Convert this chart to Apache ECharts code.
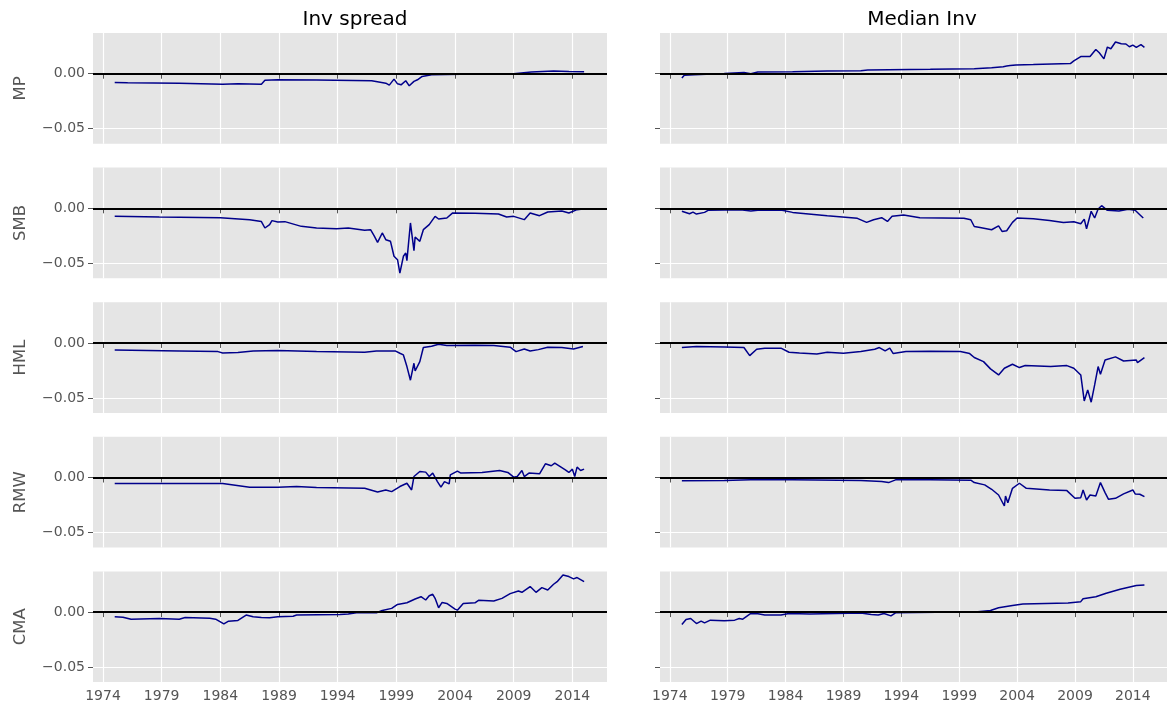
<!DOCTYPE html>
<html>
<head>
<meta charset="utf-8">
<script src="https://cdn.jsdelivr.net/npm/echarts@6/dist/echarts.min.js"></script>
<style>
html,body{margin:0;padding:0;background:#fff;}
#c{width:1167px;height:711px;}
</style>
</head>
<body>
<div id="c"></div>
<script>
// ---- data (decimal year, value) ----
const columnTitles = ['Inv spread', 'Median Inv'];
const rowNames = ['MP', 'SMB', 'HML', 'RMW', 'CMA'];
const xTickYears = [1974, 1979, 1984, 1989, 1994, 1999, 2004, 2009, 2014];
const yTickValues = [-0.05, 0];

const spreadMP = [[1975.0,-0.008],[1976.1,-0.0083],[1980.5,-0.0086],[1984.2,-0.0095],[1985.5,-0.0092],[1987.5,-0.0095],[1987.8,-0.006],[1988.9,-0.0055],[1992.2,-0.0058],[1996.9,-0.0064],[1998.1,-0.0086],[1998.4,-0.0104],[1998.8,-0.0049],[1999.1,-0.0092],[1999.4,-0.0101],[1999.8,-0.0064],[2000.1,-0.011],[2000.5,-0.007],[2000.8,-0.0055],[2001.2,-0.0025],[2002.0,-0.001],[2005.7,-0.0003],[2009.0,0.0],[2010.5,0.0015],[2012.4,0.0025],[2013.7,0.002],[2015.0,0.0018]];
const medianMP = [[1975.04,-0.004],[1975.25,-0.0015],[1976.1,-0.001],[1978.7,0.0003],[1980.4,0.0012],[1981.0,0.0],[1981.6,0.0015],[1984.6,0.0018],[1987.6,0.0025],[1990.5,0.0028],[1991.1,0.0034],[1996.5,0.004],[2000.3,0.0046],[2001.8,0.0055],[2002.8,0.0064],[2003.1,0.007],[2003.4,0.0074],[2003.9,0.008],[2005.4,0.0083],[2008.6,0.0092],[2008.9,0.0117],[2009.5,0.0156],[2010.3,0.0156],[2010.4,0.0144],[2010.8,0.022],[2011.1,0.019],[2011.5,0.0135],[2011.8,0.0242],[2012.1,0.0227],[2012.5,0.0288],[2013.0,0.0273],[2013.4,0.027],[2013.7,0.0245],[2014.0,0.026],[2014.3,0.024],[2014.7,0.0264],[2015.0,0.024]];
const spreadSMB = [[1975.0,-0.0073],[1978.8,-0.0079],[1984.0,-0.0085],[1986.5,-0.0103],[1987.5,-0.012],[1987.8,-0.0179],[1988.2,-0.0148],[1988.4,-0.0112],[1988.9,-0.0124],[1989.5,-0.0121],[1990.9,-0.0164],[1992.2,-0.0179],[1993.9,-0.0185],[1994.9,-0.0179],[1996.3,-0.02],[1996.8,-0.0194],[1997.1,-0.0248],[1997.4,-0.0309],[1997.8,-0.0224],[1998.1,-0.0285],[1998.5,-0.03],[1998.8,-0.0436],[1999.1,-0.0467],[1999.3,-0.0588],[1999.6,-0.0436],[1999.8,-0.0406],[1999.9,-0.0476],[2000.2,-0.0133],[2000.5,-0.0385],[2000.6,-0.0261],[2001.0,-0.03],[2001.3,-0.0194],[2001.8,-0.0148],[2002.3,-0.0073],[2002.6,-0.0097],[2003.3,-0.0088],[2003.8,-0.0042],[2005.7,-0.0045],[2007.7,-0.0052],[2008.4,-0.0079],[2009.0,-0.0073],[2009.9,-0.0103],[2010.4,-0.0042],[2011.2,-0.0067],[2011.9,-0.0033],[2013.1,-0.0024],[2013.7,-0.0042],[2014.4,-0.0012],[2014.9,-0.0006]];
const medianSMB = [[1975.04,-0.0027],[1975.7,-0.0049],[1976.0,-0.0034],[1976.3,-0.0052],[1977.0,-0.0037],[1977.3,-0.0018],[1978.7,-0.0015],[1980.1,-0.0012],[1981.0,-0.0024],[1981.6,-0.0018],[1983.7,-0.0018],[1984.6,-0.0037],[1987.6,-0.0067],[1990.2,-0.0091],[1991.0,-0.0128],[1991.6,-0.0104],[1992.3,-0.0085],[1992.8,-0.0119],[1993.2,-0.0073],[1994.2,-0.0061],[1995.6,-0.0085],[1999.4,-0.0091],[2000.0,-0.0104],[2000.3,-0.0165],[2000.8,-0.0174],[2001.8,-0.0195],[2002.4,-0.0159],[2002.7,-0.021],[2003.1,-0.0204],[2003.6,-0.0128],[2004.0,-0.0088],[2005.4,-0.0095],[2006.8,-0.011],[2008.0,-0.0128],[2008.9,-0.0122],[2009.5,-0.014],[2009.8,-0.0098],[2010.0,-0.0186],[2010.4,-0.0027],[2010.7,-0.0088],[2011.0,-0.0006],[2011.3,0.0024],[2011.8,-0.0018],[2012.8,-0.0024],[2013.6,-0.0009],[2014.2,-0.0018],[2014.6,-0.0058],[2014.9,-0.0088]];
const spreadHML = [[1975.0,-0.0064],[1980.5,-0.0073],[1983.8,-0.0079],[1984.2,-0.0091],[1985.5,-0.0088],[1986.8,-0.0073],[1988.9,-0.007],[1992.2,-0.0079],[1996.3,-0.0085],[1997.3,-0.0073],[1998.9,-0.0073],[1999.3,-0.0094],[1999.6,-0.0109],[1999.9,-0.0215],[2000.2,-0.0339],[2000.5,-0.0185],[2000.6,-0.0255],[2001.0,-0.017],[2001.3,-0.0042],[2002.0,-0.003],[2002.6,-0.0012],[2003.3,-0.0024],[2005.7,-0.0021],[2007.3,-0.0024],[2008.7,-0.0039],[2009.2,-0.0079],[2009.9,-0.0055],[2010.4,-0.0073],[2011.1,-0.0061],[2011.9,-0.0039],[2013.1,-0.0042],[2014.1,-0.0055],[2014.9,-0.0033]];
const medianHML = [[1975.04,-0.0042],[1976.3,-0.0033],[1978.7,-0.0036],[1980.4,-0.0042],[1980.9,-0.0115],[1981.5,-0.0058],[1982.2,-0.0048],[1983.6,-0.0048],[1984.3,-0.0085],[1985.2,-0.0091],[1986.7,-0.01],[1987.6,-0.0085],[1989.0,-0.0094],[1990.5,-0.0079],[1991.7,-0.0058],[1992.1,-0.0042],[1992.6,-0.0073],[1993.0,-0.0048],[1993.3,-0.0097],[1994.4,-0.0079],[1996.5,-0.0076],[1999.1,-0.0079],[1999.9,-0.0097],[2000.3,-0.0133],[2001.1,-0.017],[2001.7,-0.0236],[2002.4,-0.0291],[2002.9,-0.023],[2003.6,-0.0194],[2004.2,-0.0224],[2004.7,-0.0206],[2006.9,-0.0215],[2008.3,-0.0206],[2008.9,-0.023],[2009.5,-0.0291],[2009.8,-0.0527],[2010.1,-0.0427],[2010.4,-0.0539],[2010.7,-0.0382],[2011.0,-0.0215],[2011.2,-0.0285],[2011.6,-0.0155],[2012.5,-0.0127],[2013.2,-0.0164],[2014.3,-0.0155],[2014.4,-0.0179],[2015.0,-0.0133]];
const spreadRMW = [[1975.0,-0.0055],[1984.2,-0.0055],[1986.5,-0.0088],[1988.9,-0.0088],[1990.5,-0.0082],[1992.2,-0.0091],[1996.3,-0.0098],[1997.4,-0.0131],[1998.1,-0.0113],[1998.6,-0.0128],[1999.3,-0.0082],[1999.9,-0.0052],[2000.3,-0.0113],[2000.5,0.0009],[2001.0,0.0055],[2001.5,0.0049],[2001.8,0.0009],[2002.1,0.004],[2002.5,-0.0037],[2002.8,-0.0088],[2003.1,-0.0037],[2003.5,-0.0058],[2003.6,0.0024],[2004.2,0.0058],[2004.5,0.004],[2006.3,0.0046],[2007.8,0.0064],[2008.5,0.0046],[2009.0,0.0003],[2009.3,0.0009],[2009.7,0.0064],[2009.9,0.0009],[2010.3,0.004],[2011.2,0.0034],[2011.7,0.0125],[2012.2,0.0107],[2012.5,0.0131],[2013.4,0.007],[2013.7,0.0046],[2014.0,0.0076],[2014.2,0.0009],[2014.4,0.0095],[2014.7,0.0064],[2015.0,0.0076]];
const medianRMW = [[1975.04,-0.003],[1978.7,-0.0027],[1981.0,-0.0021],[1984.6,-0.0021],[1990.5,-0.0027],[1992.3,-0.0037],[1992.9,-0.0046],[1993.5,-0.0021],[1996.5,-0.0021],[2000.0,-0.0024],[2000.3,-0.0046],[2001.2,-0.0067],[2001.8,-0.0107],[2002.4,-0.0159],[2002.9,-0.0259],[2003.0,-0.0168],[2003.2,-0.0229],[2003.6,-0.0098],[2004.2,-0.0052],[2004.8,-0.0098],[2006.8,-0.0113],[2008.3,-0.0119],[2009.0,-0.0189],[2009.5,-0.0183],[2009.7,-0.0113],[2010.0,-0.0204],[2010.3,-0.0159],[2010.8,-0.0168],[2011.2,-0.0046],[2011.6,-0.0137],[2011.9,-0.0198],[2012.5,-0.0189],[2013.2,-0.0149],[2014.0,-0.0113],[2014.2,-0.0149],[2014.6,-0.0152],[2015.0,-0.0174]];
const spreadCMA = [[1975.0,-0.0043],[1975.7,-0.0046],[1976.4,-0.0064],[1978.8,-0.0058],[1980.5,-0.0064],[1981.0,-0.0049],[1983.1,-0.0055],[1983.6,-0.0064],[1984.3,-0.0107],[1984.7,-0.0082],[1985.5,-0.0076],[1986.2,-0.0027],[1986.8,-0.0043],[1987.5,-0.0049],[1988.2,-0.0052],[1988.9,-0.0043],[1990.2,-0.0037],[1990.5,-0.0027],[1994.2,-0.0021],[1994.9,-0.0018],[1995.6,-0.0006],[1997.3,-0.0006],[1997.8,0.0015],[1998.6,0.0034],[1999.1,0.007],[1999.9,0.0085],[2000.6,0.0119],[2001.1,0.014],[2001.5,0.011],[2001.8,0.0149],[2002.1,0.0162],[2002.3,0.0125],[2002.6,0.004],[2002.9,0.0088],[2003.3,0.0079],[2004.0,0.0027],[2004.2,0.0018],[2004.7,0.0079],[2005.7,0.0085],[2006.0,0.0107],[2007.3,0.0101],[2008.0,0.0125],[2008.7,0.0168],[2009.4,0.0192],[2009.7,0.018],[2010.4,0.0232],[2010.9,0.018],[2011.4,0.0223],[2011.9,0.0201],[2012.4,0.0253],[2012.7,0.0277],[2013.2,0.0338],[2013.7,0.0323],[2014.1,0.0302],[2014.4,0.0314],[2015.0,0.0277]];
const medianCMA = [[1975.04,-0.0113],[1975.4,-0.0067],[1975.8,-0.0058],[1976.3,-0.0104],[1976.7,-0.0082],[1977.0,-0.0098],[1977.5,-0.0073],[1978.7,-0.0079],[1979.6,-0.0073],[1980.0,-0.0058],[1980.3,-0.0064],[1981.0,-0.0012],[1981.6,-0.0015],[1982.2,-0.0027],[1983.6,-0.0027],[1984.3,-0.0012],[1986.1,-0.0018],[1990.5,-0.0009],[1991.4,-0.0021],[1992.0,-0.0027],[1992.5,-0.0012],[1993.1,-0.0034],[1993.5,-0.0006],[2000.6,0.0003],[2001.7,0.0015],[2002.4,0.004],[2003.6,0.0061],[2004.5,0.0073],[2008.4,0.0082],[2009.5,0.0095],[2009.7,0.0122],[2010.8,0.014],[2011.7,0.0171],[2012.9,0.0207],[2014.3,0.0241],[2015.0,0.0247]];

const seriesGrid = [
  [spreadMP, medianMP],
  [spreadSMB, medianSMB],
  [spreadHML, medianHML],
  [spreadRMW, medianRMW],
  [spreadCMA, medianCMA]
];

// ---- layout / style ----
const FONT = 'DejaVu Sans';
const colLeft = [93, 660];
const panelW = 514;
const rowTop0 = 33, rowPitch = 134.6, panelH = 110.7;
const X_MIN = 1973.15, X_MAX = 2016.95;
const Y_MIN = -0.0636, Y_MAX = 0.037;

const grids = [], xAxes = [], yAxes = [], series = [];
let idx = 0;
for (let r = 0; r < rowNames.length; r++) {
  for (let c = 0; c < 2; c++) {
    const top = rowTop0 + r * rowPitch;
    grids.push({left: colLeft[c], top: top, width: panelW, height: panelH,
      show: true, backgroundColor: '#E5E5E5', borderWidth: 0});
    const bottomRow = r === rowNames.length - 1;
    xAxes.push({
      type: 'value', gridIndex: idx, min: X_MIN, max: X_MAX,
      axisLine: {show: false},
      axisTick: {show: true, inside: false, length: 5, customValues: xTickYears,
        lineStyle: {color: '#555555', width: 1}},
      axisLabel: {show: bottomRow, customValues: xTickYears, color: '#555555',
        fontFamily: FONT, fontSize: 14, margin: 7,
        formatter: v => String(Math.round(v))},
      splitLine: {show: true, lineStyle: {color: '#FFFFFF', width: 1.2}}
    });
    yAxes.push({
      type: 'value', gridIndex: idx, min: Y_MIN, max: Y_MAX,
      axisLine: {show: false},
      axisTick: {show: true, inside: false, length: 5, customValues: yTickValues,
        lineStyle: {color: '#555555', width: 1}},
      axisLabel: {show: c === 0, customValues: yTickValues, color: '#555555',
        fontFamily: FONT, fontSize: 14, margin: 8,
        formatter: v => Math.abs(v) < 1e-9 ? '0.00' : '\u22120.05'},
      splitLine: {show: true, lineStyle: {color: '#FFFFFF', width: 1.2}},
      name: c === 0 ? rowNames[r] : '',
      nameLocation: 'middle', nameGap: 64, nameRotate: 90,
      nameTextStyle: {color: '#555555', fontFamily: FONT, fontSize: 16.5}
    });
    series.push({
      type: 'line', xAxisIndex: idx, yAxisIndex: idx,
      data: seriesGrid[r][c], showSymbol: false, symbol: 'none',
      lineStyle: {color: '#00008B', width: 1.5}, clip: true,
      markLine: {silent: true, symbol: ['none', 'none'], label: {show: false},
        lineStyle: {color: '#000000', width: 2.2, type: 'solid'},
        data: [{yAxis: 0}]}
    });
    idx++;
  }
}

const chart = echarts.init(document.getElementById('c'), null, {renderer: 'canvas'});
chart.setOption({
  animation: false,
  backgroundColor: '#FFFFFF',
  title: [
    {text: columnTitles[0], left: colLeft[0] + panelW / 2, top: 5, textAlign: 'center',
      textStyle: {fontFamily: FONT, fontSize: 20, fontWeight: 'normal', color: '#000'}},
    {text: columnTitles[1], left: colLeft[1] + panelW / 2, top: 5, textAlign: 'center',
      textStyle: {fontFamily: FONT, fontSize: 20, fontWeight: 'normal', color: '#000'}}
  ],
  grid: grids, xAxis: xAxes, yAxis: yAxes, series: series
});
</script>
</body>
</html>
